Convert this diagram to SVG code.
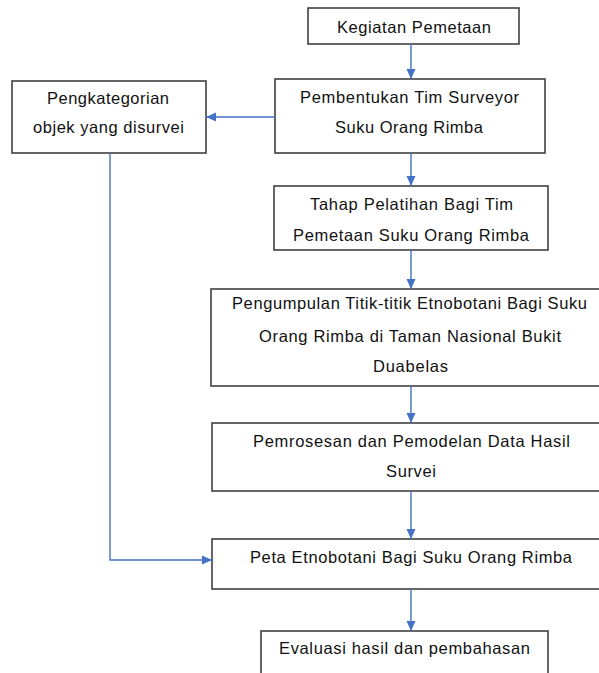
<svg xmlns="http://www.w3.org/2000/svg" width="599" height="673" viewBox="0 0 599 673">
<defs>
<marker id="ah" markerUnits="userSpaceOnUse" markerWidth="10" markerHeight="10" viewBox="0 0 10 10" refX="10" refY="5" orient="auto">
<path d="M0,0.5 L10,5 L0,9.5 Z" fill="#4472C4"/>
</marker>
<style>
.box{fill:#ffffff;stroke:#404040;stroke-width:1.6}
.t{font-family:"Liberation Sans",Arial,sans-serif;font-size:16.5px;fill:#111111}
.c{fill:none;stroke:#4472C4;stroke-width:1.4}
</style>
</defs>
<rect x="0" y="0" width="599" height="673" fill="#ffffff"/>
<g id="n1"><rect class="box" x="308" y="8" width="211" height="36"/>
<text class="t" x="337" y="33" textLength="154" lengthAdjust="spacing">Kegiatan Pemetaan</text></g>
<g id="n2"><rect class="box" x="275" y="79" width="270" height="74"/>
<text class="t" x="300" y="103" textLength="219" lengthAdjust="spacing">Pembentukan Tim Surveyor</text>
<text class="t" x="335" y="133" textLength="148" lengthAdjust="spacing">Suku Orang Rimba</text></g>
<g id="n3"><rect class="box" x="12" y="81" width="194" height="72"/>
<text class="t" x="47" y="104" textLength="122" lengthAdjust="spacing">Pengkategorian</text>
<text class="t" x="33" y="133" textLength="151" lengthAdjust="spacing">objek yang disurvei</text></g>
<g id="n4"><rect class="box" x="274" y="186" width="274" height="64"/>
<text class="t" x="310" y="210" textLength="203" lengthAdjust="spacing">Tahap Pelatihan Bagi Tim</text>
<text class="t" x="293" y="241" textLength="236" lengthAdjust="spacing">Pemetaan Suku Orang Rimba</text></g>
<g id="n5"><rect class="box" x="211" y="289" width="400" height="97"/>
<text class="t" x="232" y="309" textLength="355" lengthAdjust="spacing">Pengumpulan Titik-titik Etnobotani Bagi Suku</text>
<text class="t" x="259" y="342" textLength="302" lengthAdjust="spacing">Orang Rimba di Taman Nasional Bukit</text>
<text class="t" x="373" y="372" textLength="75" lengthAdjust="spacing">Duabelas</text></g>
<g id="n6"><rect class="box" x="212" y="423" width="400" height="68"/>
<text class="t" x="253" y="447" textLength="317" lengthAdjust="spacing">Pemrosesan dan Pemodelan Data Hasil</text>
<text class="t" x="386" y="477" textLength="50" lengthAdjust="spacing">Survei</text></g>
<g id="n7"><rect class="box" x="212" y="539" width="400" height="50"/>
<text class="t" x="250" y="563" textLength="322" lengthAdjust="spacing">Peta Etnobotani Bagi Suku Orang Rimba</text></g>
<g id="n8"><rect class="box" x="261" y="631" width="287" height="60"/>
<text class="t" x="279" y="654" textLength="251" lengthAdjust="spacing">Evaluasi hasil dan pembahasan</text></g>
<g id="connectors">
<path class="c" d="M411,44 L411,79" marker-end="url(#ah)"/>
<path class="c" d="M411,153 L411,186" marker-end="url(#ah)"/>
<path class="c" d="M411,250 L411,289" marker-end="url(#ah)"/>
<path class="c" d="M411,386 L411,423" marker-end="url(#ah)"/>
<path class="c" d="M411,491 L411,539" marker-end="url(#ah)"/>
<path class="c" d="M411,589 L411,631" marker-end="url(#ah)"/>
<path class="c" d="M275,117 L206,117" marker-end="url(#ah)"/>
<path class="c" d="M110,153 L110,560 L212,560" marker-end="url(#ah)"/>
</g>
</svg>
